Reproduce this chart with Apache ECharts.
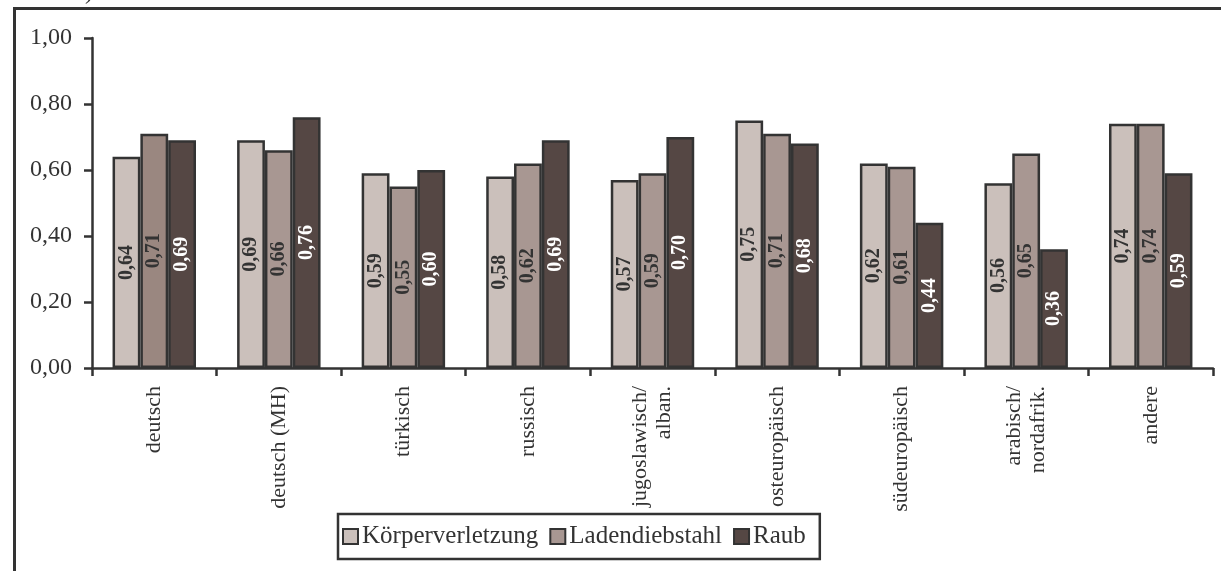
<!DOCTYPE html>
<html>
<head>
<meta charset="utf-8">
<script src="https://cdn.jsdelivr.net/npm/echarts@6/dist/echarts.min.js"></script>
<style>
html,body{margin:0;padding:0;background:#fff;}
#c{width:1221px;height:571px;}
</style>
</head>
<body>
<div id="c"></div>
<script>
var categories = ['deutsch', 'deutsch (MH)', 'türkisch', 'russisch', 'jugoslawisch/\nalban.', 'osteuropäisch', 'südeuropäisch', 'arabisch/\nnordafrik.', 'andere'];
var seriesNames = ['Körperverletzung', 'Ladendiebstahl', 'Raub'];
var koerperverletzung = [0.64, 0.69, 0.59, 0.58, 0.57, 0.75, 0.62, 0.56, 0.74];
var ladendiebstahl = [0.71, 0.66, 0.55, 0.62, 0.59, 0.71, 0.61, 0.65, 0.74];
var raub = [0.69, 0.76, 0.60, 0.69, 0.70, 0.68, 0.44, 0.36, 0.59];
var yTicks = [0, 0.2, 0.4, 0.6, 0.8, 1.0];

var serif = '"Liberation Serif", "Times New Roman", serif';
var colors = ['#cbc0bb', '#a89792', '#554744'];
var labelColors = ['#333333', '#333333', '#ffffff'];
var fmt = function (v) { return v.toFixed(2).replace('.', ','); };

function makeSeries(name, values, idx) {
  return {
    name: name,
    type: 'bar',
    data: values.map(function (v, i) {
      var d = { value: v };
      if (idx === 1 && i === 0) d.itemStyle = { color: '#9a8780' };
      return d;
    }),
    barGap: '0%',
    barCategoryGap: '33%',
    itemStyle: { color: colors[idx], borderColor: '#333333', borderWidth: 2.5 },
    label: {
      show: true,
      position: 'inside',
      rotate: 90,
      formatter: function (p) { return fmt(p.value); },
      color: labelColors[idx],
      fontFamily: serif,
      fontWeight: 'bold',
      fontSize: 20
    },
    emphasis: { disabled: true }
  };
}

var chart = echarts.init(document.getElementById('c'), null, { renderer: 'canvas' });
chart.setOption({
  animation: false,
  backgroundColor: '#ffffff',
  graphic: [
    { type: 'rect', left: 12, top: 6, shape: { width: 1220, height: 580 }, style: { fill: 'none', stroke: '#333333', lineWidth: 3 }, silent: true },
    { type: 'text', x: 85, y: -19, style: { text: ')', fontSize: 24, fontFamily: serif, fill: '#333333' }, silent: true }
  ],
  grid: { left: 92, right: 8, top: 38, bottom: 203, containLabel: false },
  legend: {
    data: seriesNames,
    left: 338,
    top: 514,
    orient: 'horizontal',
    padding: [10, 14, 10, 4],
    itemWidth: 15,
    itemHeight: 15,
    itemGap: 11,
    borderColor: '#333333',
    borderWidth: 2.5,
    icon: 'rect',
    textStyle: { fontFamily: serif, fontSize: 25, color: '#333333', padding: [0, 0, 0, -1] }
  },
  xAxis: {
    type: 'category',
    data: categories,
    axisLine: { lineStyle: { color: '#333333', width: 2.5 } },
    axisTick: { show: true, length: 8, lineStyle: { color: '#333333', width: 2.5 } },
    axisLabel: {
      rotate: 90,
      interval: 0,
      margin: 18,
      fontFamily: serif,
      fontSize: 22,
      color: '#333333',
      lineHeight: 24
    }
  },
  yAxis: {
    type: 'value',
    min: 0,
    max: 1,
    interval: 0.2,
    splitLine: { show: false },
    axisLine: { show: true, lineStyle: { color: '#333333', width: 2.5 } },
    axisTick: { show: true, length: 8, lineStyle: { color: '#333333', width: 2.5 } },
    axisLabel: {
      formatter: function (v) { return fmt(v); },
      fontFamily: serif,
      fontSize: 24,
      color: '#333333',
      margin: 20,
      customValues: yTicks
    }
  },
  series: [
    makeSeries(seriesNames[0], koerperverletzung, 0),
    makeSeries(seriesNames[1], ladendiebstahl, 1),
    makeSeries(seriesNames[2], raub, 2)
  ]
});
</script>
</body>
</html>
